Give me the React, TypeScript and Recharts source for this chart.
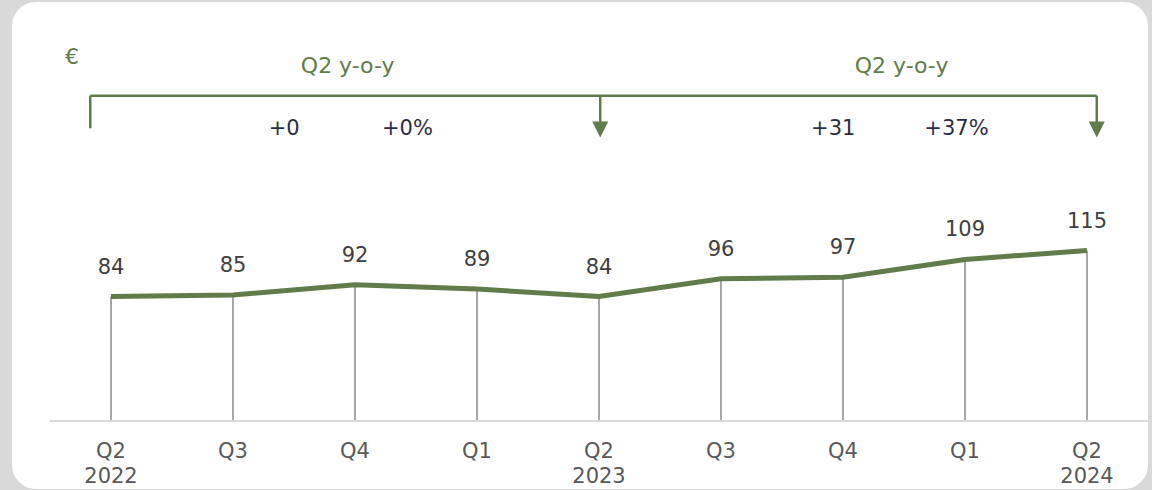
import React from 'react';
import { ComposedChart, Line, Bar, XAxis, YAxis, ReferenceLine, ReferenceDot, LabelList } from 'recharts';

const quarters = ['Q2', 'Q3', 'Q4', 'Q1', 'Q2', 'Q3', 'Q4', 'Q1', 'Q2'];
const years = ['2022', '', '', '', '2023', '', '', '', '2024'];
const values = [84, 85, 92, 89, 84, 96, 97, 109, 115];

const unitLabel = '€';
const bracketTitles = ['Q2 y-o-y', 'Q2 y-o-y'];
const bracketAbs = ['+0', '+31'];
const bracketPct = ['+0%', '+37%'];

const GREEN = '#617c4b';
const FONT = "'DejaVu Sans', Verdana, sans-serif";
const FS = 21;

const data = quarters.map((q, i) => ({ cat: `${q}\n${years[i]}`, idx: i, value: values[i] }));

const Tick = (props: any) => {
  const { x, y, payload } = props;
  const [a, b] = String(payload.value).split('\n');
  return (
    <g>
      <text x={x} y={y + 37} textAnchor="middle" fill="#595959" fontSize={FS} fontFamily={FONT}>{a}</text>
      {b ? <text x={x} y={y + 62} textAnchor="middle" fill="#595959" fontSize={FS} fontFamily={FONT}>{b}</text> : null}
    </g>
  );
};

const ValueLabel = (props: any) => {
  const { x, y, width, value } = props;
  const cx = x + (width || 0) / 2;
  return (
    <text x={cx} y={y - 23} textAnchor="middle" fill="#404040" fontSize={FS} fontFamily={FONT}>{value}</text>
  );
};

const makeText = (txt: string, color: string, fs: number = FS) => (p: any) => (
  <text x={p.cx} y={p.cy} textAnchor="middle" fill={color} fontSize={fs} fontFamily={FONT}>{txt}</text>
);

const Arrow = (p: any) => (
  <path d={`M${p.cx - 8},${p.cy} L${p.cx + 8},${p.cy} L${p.cx},${p.cy + 16} Z`} fill={GREEN} />
);

// annotation positions in data space (hidden numeric x axis = category index)
const bracketY = 219.5;
const leftTickEnd = 197.5;
const shaftEnd = 201;
const titleY = 235;
const deltaY = 193;
const bLeft = -0.17;
const bMid = 4.01;
const bRight = 8.08;

export default function App() {
  return (
    <div style={{ position: 'absolute', left: 0, top: 0, width: 1152, height: 490, background: '#d9d9d9', overflow: 'hidden' }}>
      <div style={{ position: 'absolute', left: 12, top: 2, width: 1136, height: 487, background: '#fff', borderRadius: 24 }} />
      <div style={{ position: 'absolute', left: 0, top: 0 }}>
        <ComposedChart width={1152} height={490} data={data} margin={{ top: 6, right: 4, bottom: 68, left: 50 }} barCategoryGap={0}>
          <XAxis dataKey="cat" interval={0} height={1} tickLine={false} tickSize={0} tickMargin={0} axisLine={{ stroke: '#d9d9d9', strokeWidth: 2 }} tick={<Tick />} />
          <XAxis xAxisId="ann" dataKey="idx" type="number" domain={[-0.5, 8.5]} ticks={[-0.5, 8.5]} allowDecimals allowDataOverflow hide height={0} />
          <YAxis hide width={0} domain={[0, 280]} allowDataOverflow />
          <Bar dataKey="value" barSize={2} fill="#a6a6a6" isAnimationActive={false} />
          <Line dataKey="value" stroke={GREEN} strokeWidth={5} dot={false} activeDot={false} isAnimationActive={false}>
            <LabelList dataKey="value" content={<ValueLabel />} />
          </Line>
          <ReferenceLine xAxisId="ann" segment={[{ x: bLeft, y: bracketY }, { x: bRight, y: bracketY }]} stroke={GREEN} strokeWidth={2.5} ifOverflow="visible" />
          <ReferenceLine xAxisId="ann" segment={[{ x: bLeft, y: bracketY }, { x: bLeft, y: leftTickEnd }]} stroke={GREEN} strokeWidth={2.5} ifOverflow="visible" />
          <ReferenceLine xAxisId="ann" segment={[{ x: bMid, y: bracketY }, { x: bMid, y: shaftEnd }]} stroke={GREEN} strokeWidth={2.5} ifOverflow="visible" />
          <ReferenceLine xAxisId="ann" segment={[{ x: bRight, y: bracketY }, { x: bRight, y: shaftEnd }]} stroke={GREEN} strokeWidth={2.5} ifOverflow="visible" />
          <ReferenceDot xAxisId="ann" x={bMid} y={shaftEnd + 1} r={0} shape={Arrow} ifOverflow="visible" />
          <ReferenceDot xAxisId="ann" x={bRight} y={shaftEnd + 1} r={0} shape={Arrow} ifOverflow="visible" />
          <ReferenceDot xAxisId="ann" x={-0.32} y={241} r={0} shape={makeText(unitLabel, GREEN, 22)} ifOverflow="visible" />
          <ReferenceDot xAxisId="ann" x={1.94} y={titleY} r={0} shape={makeText(bracketTitles[0], GREEN, 22)} ifOverflow="visible" />
          <ReferenceDot xAxisId="ann" x={6.48} y={titleY} r={0} shape={makeText(bracketTitles[1], GREEN, 22)} ifOverflow="visible" />
          <ReferenceDot xAxisId="ann" x={1.42} y={deltaY} r={0} shape={makeText(bracketAbs[0], '#2b2d42')} ifOverflow="visible" />
          <ReferenceDot xAxisId="ann" x={2.43} y={deltaY} r={0} shape={makeText(bracketPct[0], '#2b2d42')} ifOverflow="visible" />
          <ReferenceDot xAxisId="ann" x={5.92} y={deltaY} r={0} shape={makeText(bracketAbs[1], '#2b2d42')} ifOverflow="visible" />
          <ReferenceDot xAxisId="ann" x={6.93} y={deltaY} r={0} shape={makeText(bracketPct[1], '#2b2d42')} ifOverflow="visible" />
        </ComposedChart>
      </div>
    </div>
  );
}
